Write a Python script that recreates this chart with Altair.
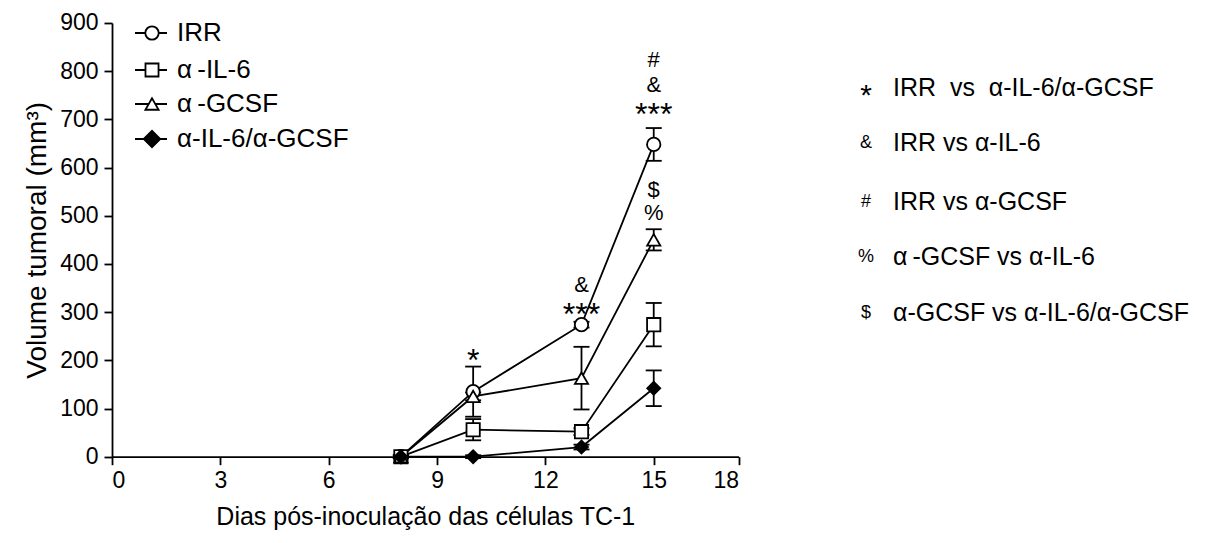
import altair as alt
import pandas as pd

# ---------------- data ----------------
days = [8, 10, 13, 15]
series = ["IRR", "α-IL-6", "α-GCSF", "α-IL-6/α-GCSF"]
irr = [0, 135, 274, 648]
irr_err = [3, 52, 6, 34]
il6 = [0, 56, 52, 274]
il6_err = [3, 22, 7, 45]
gcsf = [0, 125, 163, 450]
gcsf_err = [3, 8, 65, 22]
combo = [0, 0, 20, 142]
combo_err = [3, 3, 5, 37]

ann_day = [10, 13, 13, 15, 15, 15, 15, 15]
ann_val = [216, 311, 357, 726, 772, 824, 506, 554]
ann_label = ["*", "***", "&", "***", "&", "#", "%", "$"]

x_ticks = [0, 3, 6, 9, 12, 15, 17.35]

legend_labels = ["IRR", "α\u2009-IL-6", "α\u2009-GCSF", "α-IL-6/α-GCSF"]
stat_symbols = ["*", "&", "#", "%", "$"]
stat_texts = ["IRR\u00a0\u00a0vs\u00a0\u00a0α-IL-6/α-GCSF", "IRR vs α-IL-6",
              "IRR vs α-GCSF", "α\u2009-GCSF vs α-IL-6",
              "α-GCSF vs α-IL-6/α-GCSF"]

# ---------------- layout ----------------
FONT = "Liberation Sans"
W, H = 626.6, 433.7
PAD_L, PAD_T = 104, 15
OX, OY = 8 + PAD_L, 8 + PAD_T

shapes = ["circle", "square", "triangle-up", "diamond"]
fills = ["white", "white", "white", "black"]
sizes = [180, 170, 175, 270]

rows = []
for name, vals, errs in zip(series, [irr, il6, gcsf, combo],
                            [irr_err, il6_err, gcsf_err, combo_err]):
    for d, v, e in zip(days, vals, errs):
        rows.append({"series": name, "day": d, "value": v,
                     "lo": v - e, "hi": v + e})
df = pd.DataFrame(rows)

ann = pd.DataFrame({"day": ann_day, "value": ann_val, "label": ann_label})
ann_ast = ann[ann["label"].str.startswith("*")]
ann_oth = ann[~ann["label"].str.startswith("*")]

xs = alt.Scale(domain=[0, 17.35], nice=False, zero=False)
ys = alt.Scale(domain=[0, 900], nice=False)
shape_scale = alt.Scale(domain=series, range=shapes)
fill_scale = alt.Scale(domain=series, range=fills)

LW = 1.8

X = alt.X("day:Q", scale=xs, axis=alt.Axis(
    values=x_ticks, labelExpr="datum.value > 17 ? '18' : datum.label",
    title="Dias pós-inoculação das células TC-1", grid=False,
    tickSize=8, tickWidth=LW, domainWidth=LW, domainColor="black",
    tickColor="black", labelColor="black", labelFontSize=23,
    labelFont=FONT, titleFont=FONT, titleFontSize=25, titleFontWeight="normal",
    titleColor="black", titlePadding=12, labelPadding=5))
Y = alt.Y("value:Q", scale=ys, axis=alt.Axis(
    values=list(range(0, 901, 100)), title="Volume tumoral (mm³)", grid=False,
    tickSize=8, tickWidth=LW, domainWidth=LW, domainColor="black",
    tickColor="black", labelColor="black", labelFontSize=23,
    labelFont=FONT, titleFont=FONT, titleFontSize=28, titleFontWeight="normal",
    titleColor="black", titlePadding=8, labelPadding=6))

base = alt.Chart(df)

err_rule = base.mark_rule(color="black", strokeWidth=LW).encode(
    x=X, y=alt.Y("lo:Q", scale=ys), y2="hi:Q")
cap_hi = base.mark_rule(color="black", strokeWidth=LW, xOffset=-8, x2Offset=8).encode(
    x=alt.X("day:Q", scale=xs), x2="day:Q", y=alt.Y("hi:Q", scale=ys))
cap_lo = base.mark_rule(color="black", strokeWidth=LW, xOffset=-8, x2Offset=8).encode(
    x=alt.X("day:Q", scale=xs), x2="day:Q", y=alt.Y("lo:Q", scale=ys))

lines = base.mark_line(color="black", strokeWidth=LW).encode(
    x=X, y=Y, detail="series:N", order="day:Q")

points = base.mark_point(filled=True, stroke="black", strokeWidth=LW, opacity=1).encode(
    x=X, y=Y,
    shape=alt.Shape("series:N", scale=shape_scale, legend=None),
    fill=alt.Fill("series:N", scale=fill_scale, legend=None),
    size=alt.Size("series:N", scale=alt.Scale(domain=series, range=sizes), legend=None),
)

ann_text1 = alt.Chart(ann_ast).mark_text(font=FONT, color="black", baseline="middle",
                                         fontSize=32, dy=8).encode(
    x=alt.X("day:Q", scale=xs), y=alt.Y("value:Q", scale=ys), text="label:N")
ann_text2 = alt.Chart(ann_oth).mark_text(font=FONT, color="black", baseline="middle",
                                         fontSize=22).encode(
    x=alt.X("day:Q", scale=xs), y=alt.Y("value:Q", scale=ys), text="label:N")

layers = [err_rule, cap_hi, cap_lo, lines, points, ann_text1, ann_text2]

# -------- left legend (series) --------
leg_y = [33, 70, 104, 139]
dummy = alt.Chart(pd.DataFrame({"a": [0]}))
for name, yy, shp, fl, sz in zip(legend_labels, leg_y, shapes, fills, sizes):
    yr = yy - OY
    layers.append(dummy.mark_rule(color="black", strokeWidth=LW).encode(
        x=alt.value(135 - OX), x2=alt.value(167 - OX), y=alt.value(yr)))
    layers.append(dummy.mark_point(filled=True, stroke="black", strokeWidth=LW,
                                   opacity=1, shape=shp, fill=fl, size=sz).encode(
        x=alt.value(152 - OX), y=alt.value(yr)))
    layers.append(dummy.mark_text(font=FONT, fontSize=26, color="black", align="left",
                                  baseline="middle", text=name).encode(
        x=alt.value(177 - OX), y=alt.value(yr)))

# -------- right legend (statistics) --------
stat_y = [88, 143, 202, 257, 313]
for sym, txt, yy in zip(stat_symbols, stat_texts, stat_y):
    yr = yy - OY
    fs = 30 if sym == "*" else 18
    layers.append(dummy.mark_text(font=FONT, fontSize=fs, color="black", align="center",
                                  baseline="middle", text=sym,
                                  dy=8 if sym == "*" else 0).encode(
        x=alt.value(866 - OX), y=alt.value(yr)))
    layers.append(dummy.mark_text(font=FONT, fontSize=25, color="black", align="left",
                                  baseline="middle", text=txt).encode(
        x=alt.value(893 - OX), y=alt.value(yr)))

chart = alt.layer(*layers).properties(
    width=W, height=H,
    autosize=alt.AutoSizeParams(type="none"),
    padding={"left": PAD_L, "top": PAD_T, "right": 1196 - PAD_L - 627,
             "bottom": 527 - PAD_T - 434 - 4},
    background="white",
).configure_view(stroke=None)

chart.save("out.html", embed_options={"renderer": "svg", "actions": False})
